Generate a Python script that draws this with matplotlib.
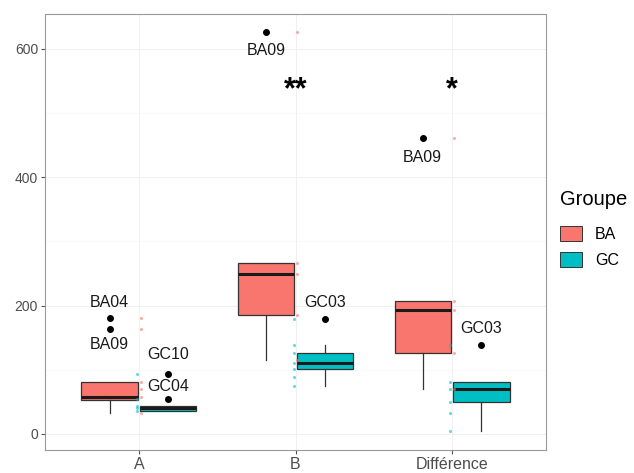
import matplotlib
matplotlib.use("Agg")
import matplotlib.pyplot as plt
from matplotlib.patches import Patch
import numpy as np

plt.rcParams['font.family'] = ['Liberation Sans', 'DejaVu Sans']

categories = ["A", "B", "Différence"]
groups = ["BA", "GC"]
colors = {"BA": "#F8766D", "GC": "#00BFC4"}

# box statistics per category: (whislo, q1, med, q3, whishi)
ba_stats = [(33, 53, 58, 81, 81), (115, 185, 249, 266, 266), (70, 126, 193, 207, 207)]
gc_stats = [(36, 36, 41, 44, 44), (75, 101, 110, 126, 138), (5, 50, 70, 81, 81)]
ba_outliers = [[181, 163], [626], [461]]
gc_outliers = [[93, 54], [179], [139]]

# individual observations drawn as small dots
ba_points = [[181, 163, 81, 70, 57, 33], [626, 266, 249, 185, 115], [461, 207, 193, 126, 70]]
gc_points = [[93, 54, 44, 40, 36], [179, 138, 126, 110, 101, 89, 75], [139, 81, 70, 50, 33, 5]]

# outlier labels: (category index, group, value, text)
labels = [
    (0, "BA", 181, "BA04"), (0, "BA", 163, "BA09"),
    (0, "GC", 93, "GC10"), (0, "GC", 54, "GC04"),
    (1, "BA", 626, "BA09"), (1, "GC", 179, "GC03"),
    (2, "BA", 461, "BA09"), (2, "GC", 139, "GC03"),
]
label_offsets = [11, -11, 14, 9, -13, 12, -14, 12]  # points
signif = ["", "**", "*"]
signif_y = 536

fig = plt.figure(figsize=(6.34, 4.73), dpi=100)
ax = fig.add_axes([45/634, 23/473, 501/634, 436/473])

pos = np.arange(1, len(categories) + 1)
off = 0.1875
width = 0.36

def draw(stats, outl, shift, col):
    bxp = []
    for s, o in zip(stats, outl):
        bxp.append(dict(whislo=s[0], q1=s[1], med=s[2], q3=s[3], whishi=s[4], fliers=o))
    ax.bxp(bxp, positions=pos + shift, widths=width, patch_artist=True, showcaps=False,
           boxprops=dict(facecolor=col, edgecolor="#333333", linewidth=0.9),
           medianprops=dict(color="#1a1a1a", linewidth=2.2),
           whiskerprops=dict(color="#333333", linewidth=0.9),
           flierprops=dict(marker="o", markerfacecolor="black", markeredgecolor="black",
                           markersize=4), zorder=3, manage_ticks=False)

draw(ba_stats, ba_outliers, -off, colors["BA"])
draw(gc_stats, gc_outliers, off, colors["GC"])

for i in range(len(categories)):
    ax.scatter(np.full(len(ba_points[i]), pos[i] + 0.01), ba_points[i], s=5,
               color=colors["BA"], alpha=0.6, zorder=4, linewidths=0)
    ax.scatter(np.full(len(gc_points[i]), pos[i] - 0.01), gc_points[i], s=5,
               color=colors["GC"], alpha=0.6, zorder=4, linewidths=0)

for (ci, g, v, t), d in zip(labels, label_offsets):
    x = pos[ci] + (-off if g == "BA" else off)
    ax.annotate(t, (x, v), xytext=(0, d), textcoords="offset points",
                ha="center", va="center", fontsize=11.5, color="#1a1a1a", zorder=5)

for i, s in enumerate(signif):
    if s:
        ax.text(pos[i], signif_y, s, ha="center", va="center", fontsize=22,
                fontweight="bold", color="black")

ax.set_xlim(0.4, 3.6)
ax.set_ylim(-25, 654)
ax.set_xticks(pos)
ax.set_xticklabels(categories)
ax.set_yticks([0, 200, 400, 600])
ax.set_yticks([100, 300, 500], minor=True)
ax.grid(True, which="major", color="#F0F0F0", linewidth=0.7, zorder=0)
ax.grid(True, which="minor", axis="y", color="#F6F6F6", linewidth=0.5, zorder=0)
ax.set_axisbelow(True)
ax.tick_params(axis="both", which="major", length=3, color="#555555",
               labelcolor="#4D4D4D", labelsize=10, pad=2)
ax.tick_params(axis="x", labelsize=11.5)
ax.tick_params(axis="y", which="minor", length=0)
for sp in ax.spines.values():
    sp.set_color("#999999")
    sp.set_linewidth(0.8)

handles = [Patch(facecolor=colors[g], edgecolor="#333333", linewidth=0.7) for g in groups]
leg = fig.legend(handles, groups, title="Groupe", loc="upper left",
                 bbox_to_anchor=(560/634, 1 - 190/473), frameon=False, fontsize=11.5,
                 title_fontsize=14.5, handlelength=1.4, handleheight=1.1,
                 labelspacing=0.65, handletextpad=0.8, borderaxespad=0, borderpad=0)
leg._legend_box.align = "left"
leg._legend_box.sep = 12

fig.savefig("out.png", dpi=100)
